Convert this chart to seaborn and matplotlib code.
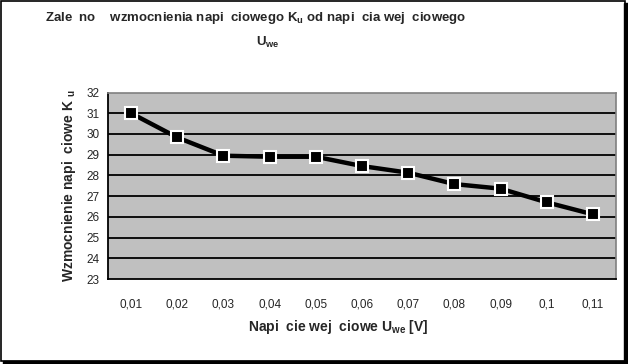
import matplotlib
matplotlib.use("Agg")
import matplotlib.pyplot as plt
import seaborn as sns
from matplotlib.patches import Rectangle

# data
napiecie = ["0,01", "0,02", "0,03", "0,04", "0,05", "0,06",
            "0,07", "0,08", "0,09", "0,1", "0,11"]
wzmocnienie = [31.0, 29.83, 28.95, 28.9, 28.9, 28.45,
               28.13, 27.58, 27.36, 26.7, 26.12]
y_ticks = [23, 24, 25, 26, 27, 28, 29, 30, 31, 32]

sns.set_style("white")
plt.rcParams["font.family"] = ["Liberation Sans", "DejaVu Sans"]
plt.rcParams["mathtext.fontset"] = "custom"
plt.rcParams["mathtext.rm"] = "Liberation Sans:bold"
plt.rcParams["mathtext.it"] = "Liberation Sans:bold"
plt.rcParams["mathtext.bf"] = "Liberation Sans:bold"

fig = plt.figure(figsize=(6.28, 3.64), dpi=100)
ax = fig.add_axes([108 / 628, 1 - 279 / 364, 508 / 628, 186.5 / 364])
ax.set_facecolor("#c0c0c0")

# horizontal grid lines
for v in y_ticks[1:-1]:
    ax.axhline(v, color="black", lw=1.3, zorder=1)

sns.pointplot(x=napiecie, y=wzmocnienie, ax=ax, color="black",
              markers="s", linestyles="-", linewidth=3.2,
              markersize=8, markeredgecolor="white", markeredgewidth=1.5,
              zorder=3)

ax.set_xlim(-0.5, len(napiecie) - 0.5)
ax.set_ylim(23, 32)
ax.set_yticks(y_ticks)
ax.set_yticklabels([str(v) for v in y_ticks], fontsize=8.5)
ax.set_xticks(range(len(napiecie)))
ax.set_xticklabels(napiecie, fontsize=8.5)
ax.set_xticks([i - 0.5 for i in range(len(napiecie) + 1)], minor=True)
ax.tick_params(axis="x", which="major", length=0, pad=14)
ax.tick_params(axis="x", which="minor", length=3, width=1, color="black",
               direction="out")
ax.tick_params(axis="y", length=3, width=1, color="black",
               direction="out", pad=3)
ax.set_xlabel("")
ax.set_ylabel("Wzmocnienie napi  ciowe K $_u$", fontsize=10,
              fontweight="bold", labelpad=6)

for side in ["left", "bottom"]:
    ax.spines[side].set_color("black")
    ax.spines[side].set_linewidth(1.3)
for side in ["top", "right"]:
    ax.spines[side].set_color("#808080")
    ax.spines[side].set_linewidth(1.2)

fig.text(256 / 628, 1 - 18 / 364,
         "Zale  no    wzmocnienia napi  ciowego K$_u$ od napi  cia wej  ciowego",
         ha="center", va="center", fontsize=9.5, fontweight="bold")
fig.text(268 / 628, 1 - 42 / 364, "U$_{we}$",
         ha="center", va="center", fontsize=9.5, fontweight="bold")
fig.text(338 / 628, 1 - 327 / 364, "Napi  cie wej  ciowe U$_{we}$ [V]",
         ha="center", va="center", fontsize=10, fontweight="bold")

# outer frame with shadow
fig.patches.append(Rectangle((0.5 / 628, 3 / 364), 624 / 628, 360.5 / 364,
                             transform=fig.transFigure, fill=False,
                             edgecolor="black", lw=1.2))
fig.patches.append(Rectangle((624 / 628, 0), 4 / 628, 1 - 3 / 364,
                             transform=fig.transFigure, color="black"))
fig.patches.append(Rectangle((3 / 628, 0), 1, 3 / 364,
                             transform=fig.transFigure, color="black"))

fig.savefig("out.png", dpi=100)
